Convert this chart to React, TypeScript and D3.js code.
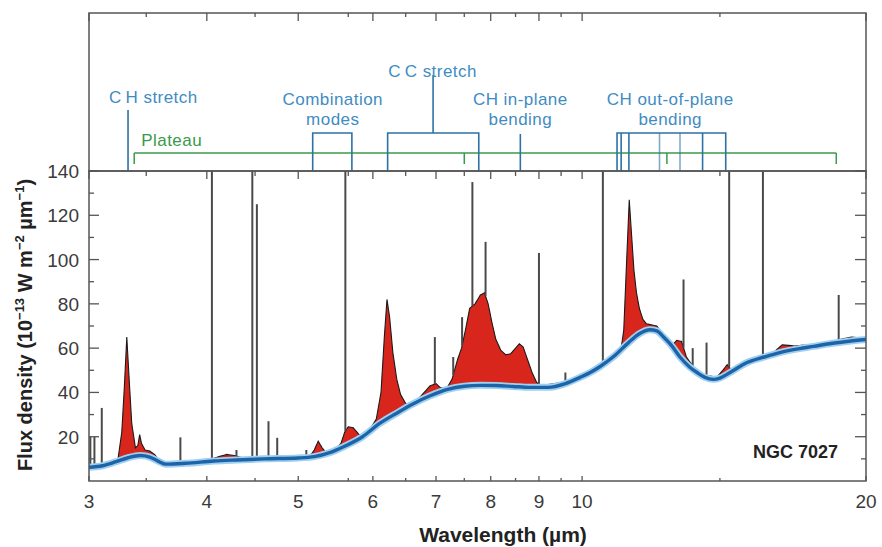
import React from "react";
import * as d3 from "d3";

// ---------- data (wavelength in µm, flux in 10^-13 W m^-2 µm^-1) ----------
const continuum: [number, number][] = [
  [3.0, 6.2], [3.1, 6.9], [3.2, 8.6], [3.3, 10.5], [3.4, 11.5], [3.48, 10.8],
  [3.55, 9.0], [3.62, 7.6], [3.8, 8.0], [4.07, 9.0], [4.3, 9.5], [4.6, 10.0],
  [5.0, 10.4], [5.2, 11.0], [5.4, 12.8], [5.6, 15.7], [5.85, 20], [6.1, 26],
  [6.35, 30.5], [6.6, 34.6], [6.9, 38.5], [7.2, 41.4], [7.5, 42.8], [7.8, 43.2],
  [8.1, 43.1], [8.45, 42.7], [8.8, 42.3], [9.2, 42.3], [9.6, 44], [9.95, 46.8],
  [10.2, 49], [10.45, 51.7], [10.8, 56.2], [11.2, 62.5], [11.5, 66.5], [11.8, 68.3],
  [12.0, 67.8], [12.2, 65], [12.45, 61], [12.7, 56], [13.0, 51.5], [13.24, 49],
  [13.5, 46.8], [13.77, 45.9], [14.0, 46.5], [14.35, 49], [14.96, 53.5], [15.6, 56],
  [16.2, 58], [17.0, 59.8], [17.6, 60.8], [18.3, 62], [19.1, 63], [20.0, 63.9],
];

const spectrum: [number, number][] = [
  [3.0, 6.4], [3.18, 8.6], [3.22, 10], [3.25, 22], [3.27, 42], [3.29, 65],
  [3.31, 45], [3.33, 26], [3.36, 15], [3.38, 16], [3.395, 21], [3.41, 17],
  [3.44, 14], [3.48, 13.5], [3.52, 12], [3.56, 9.5], [3.62, 7.8], [4.0, 9.3],
  [4.12, 11], [4.2, 12], [4.28, 11.5], [4.36, 10.5], [5.0, 10.8], [5.15, 11.5],
  [5.2, 14], [5.25, 18], [5.3, 15], [5.36, 12.5], [5.45, 13.5], [5.55, 17],
  [5.6, 22], [5.65, 24.5], [5.72, 24], [5.8, 21], [5.88, 20.5], [5.95, 23],
  [6.05, 28], [6.12, 40], [6.17, 65], [6.21, 82], [6.25, 74], [6.3, 58],
  [6.36, 46], [6.42, 39], [6.5, 35], [6.58, 34.5], [6.7, 37], [6.8, 40],
  [6.9, 43], [7.0, 44], [7.08, 42], [7.2, 42.5], [7.28, 46], [7.38, 55],
  [7.45, 60], [7.52, 68], [7.6, 78], [7.7, 80], [7.8, 84], [7.88, 85],
  [7.95, 80], [8.02, 72], [8.1, 64], [8.2, 59], [8.3, 57], [8.4, 57.5],
  [8.5, 60], [8.58, 62], [8.66, 60.5], [8.75, 55], [8.85, 49], [8.95, 44.5],
  [9.05, 43], [9.5, 44.5], [9.7, 45.5], [10.0, 47.5], [10.3, 50.5], [10.6, 54],
  [10.9, 58], [11.0, 60], [11.07, 68], [11.15, 100], [11.22, 127], [11.28, 112],
  [11.35, 95], [11.42, 85], [11.5, 78], [11.6, 73], [11.7, 71], [11.85, 70.5],
  [12.0, 70], [12.1, 68], [12.3, 64], [12.5, 62], [12.6, 63.5], [12.75, 63],
  [12.9, 56], [13.1, 52], [13.3, 48], [13.6, 47.5], [13.9, 47], [14.1, 50],
  [14.25, 52.5], [14.4, 50], [14.7, 51.5], [15.0, 54], [15.6, 56.5], [16.0, 58.5],
  [16.3, 61.5], [16.8, 61], [17.3, 61.5], [17.6, 61.5], [18.2, 62.5], [18.8, 64],
  [19.3, 65], [19.8, 64.5], [20.0, 64],
];

// narrow emission lines: [wavelength, peak flux]
const emissionLines: [number, number][] = [
  [3.01, 20], [3.04, 20], [3.095, 33], [3.75, 19.7], [4.05, 200], [4.3, 14],
  [4.47, 200], [4.52, 125], [4.65, 27], [4.75, 19.5], [5.1, 14], [5.61, 200],
  [6.98, 65], [7.3, 56], [7.46, 74], [7.65, 135], [7.9, 108], [9.0, 103],
  [9.6, 49], [10.52, 200], [12.81, 91], [13.1, 60], [13.55, 62.5], [14.32, 200],
  [15.55, 200], [18.71, 84],
];

const xMajorTicks = [3, 4, 5, 6, 7, 8, 9, 10, 20];
const xMinorTicks = [3.45, 4.5, 5.65, 6.5, 7.5, 8.5, 9.5, 14];
const yMajorTicks = [20, 40, 60, 80, 100, 120, 140];
const yMinorTicks = [10, 30, 50, 70, 90, 110, 130];

// band annotations (µm)
const chStretchPos = 3.3;
const plateauRange = [3.35, 18.6];
const plateauTicks = [7.5, 12.3];
const combinationRange = [5.18, 5.7];
const ccRange = [6.22, 7.77];
const ccCenter = 6.95;
const chInPlanePos = 8.6;
const oopRange = [10.89, 14.2];
const oopLines = [11.0, 11.21, 12.08, 12.7, 13.42];

const bandLabels: { lines: string[]; at: number }[] = [
  { lines: ["C\u2009H stretch"], at: 3.51 },
  { lines: ["Combination", "modes"], at: 5.44 },
  { lines: ["C\u2009C stretch"], at: 6.94 },
  { lines: ["CH in-plane", "bending"], at: 8.6 },
  { lines: ["CH out-of-plane", "bending"], at: 12.4 },
];

// ---------- layout ----------
const W = 882, H = 547;
const L = 89, R = 866, TOP = 13, MID = 171, BOT = 481;
const FONT = "'Liberation Sans', Arial, Helvetica, sans-serif";
const BLUE_TEXT = "#3f8cc2";
const BLUE_LINE = "#2c72a6";
const GREEN = "#3a9a4c";

export default function App() {
  const x = d3.scaleLog().domain([3, 20]).range([L, R]);
  const y = d3.scaleLinear().domain([0, 140]).range([BOT, MID]);

  const contI = d3.scaleLog().domain(continuum.map(d => d[0])).range(continuum.map(d => d[1])).clamp(true);
  const specI = d3.scaleLog().domain(spectrum.map(d => d[0])).range(spectrum.map(d => d[1])).clamp(true);

  const grid = Array.from(new Set([...continuum.map(d => d[0]), ...spectrum.map(d => d[0])])).sort((a, b) => a - b);
  const dense: number[] = [];
  for (let i = 0; i < grid.length - 1; i++) {
    const a = grid[i], b = grid[i + 1];
    for (let k = 0; k < 4; k++) dense.push(a * Math.pow(b / a, k / 4));
  }
  dense.push(grid[grid.length - 1]);
  const top = (w: number) => Math.max(specI(w), contI(w));

  const area = d3.area<number>().x(w => x(w)).y0(w => y(contI(w))).y1(w => y(top(w)));
  const specLine = d3.line<number>().x(w => x(w)).y(w => y(top(w)));
  const contLine = d3.line<[number, number]>().x(d => x(d[0])).y(d => y(d[1])).curve(d3.curveMonotoneX);

  const bracketY = 133;
  const labelEls: React.ReactElement[] = [];
  bandLabels.forEach((b, i) => {
    const baselines = b.lines.length === 2 ? [105, 124.5] : b.at < 4 ? [103] : [77];
    b.lines.forEach((t, j) => {
      labelEls.push(
        <text key={i + "-" + j} x={x(b.at)} y={baselines[j]} textAnchor="middle" fill={BLUE_TEXT}
          fontSize={17} letterSpacing={0.45} fontFamily={FONT}>
          {t}
        </text>
      );
    });
  });

  return (
    <div style={{ position: "absolute", left: 0, top: 0 }}>
      <svg width={W} height={H} style={{ display: "block", background: "#fff" }}>
        <defs>
          <clipPath id="main">
            <rect x={L} y={MID} width={R - L} height={BOT - MID} />
          </clipPath>
        </defs>

        {/* ---- top annotation panel ---- */}
        <g stroke={GREEN} strokeWidth={1.5} fill="none">
          <line x1={x(plateauRange[0])} x2={x(plateauRange[1])} y1={153} y2={153} />
          <line x1={x(plateauRange[0])} x2={x(plateauRange[0])} y1={153} y2={164} />
          <line x1={x(plateauRange[1])} x2={x(plateauRange[1])} y1={153} y2={164} />
          {plateauTicks.map((t, i) => (
            <line key={i} x1={x(t)} x2={x(t)} y1={153} y2={164} />
          ))}
        </g>
        <text x={x(3.4) + 1} y={146} fill={GREEN} fontSize={17} letterSpacing={0.45} fontFamily={FONT}>Plateau</text>

        <g stroke={BLUE_LINE} strokeWidth={1.6} fill="none">
          <line x1={x(chStretchPos)} x2={x(chStretchPos)} y1={110} y2={MID} />
          <path d={`M${x(combinationRange[0])},${MID}V${bracketY}H${x(combinationRange[1])}V${MID}`} />
          <path d={`M${x(ccRange[0])},${MID}V${bracketY}H${x(ccRange[1])}V${MID}`} />
          <line x1={x(ccCenter)} x2={x(ccCenter)} y1={bracketY} y2={75} />
          <line x1={x(chInPlanePos)} x2={x(chInPlanePos)} y1={bracketY + 1} y2={MID} />
          <path d={`M${x(oopRange[0])},${MID}V${bracketY}H${x(oopRange[1])}V${MID}`} />
          {oopLines.map((w, i) => (
            <line key={i} x1={x(w)} x2={x(w)} y1={bracketY} y2={MID} opacity={i === 2 || i === 3 ? 0.6 : 1} />
          ))}
        </g>
        {labelEls}

        {/* ---- main panel ---- */}
        <g clipPath="url(#main)">
          <path d={area(dense) || ""} fill="#d8261c" />
          <path d={specLine(dense) || ""} fill="none" stroke="#1a1a1a" strokeWidth={1.1} />
          {emissionLines.map(([w, p], i) => (
            <line key={i} x1={x(w)} x2={x(w)} y1={y(top(w))} y2={y(p)} stroke="#4a4a4a" strokeWidth={2} />
          ))}
          <path d={contLine(continuum) || ""} fill="none" stroke="#9fd0f0" strokeWidth={7} strokeLinejoin="round" />
          <path d={contLine(continuum) || ""} fill="none" stroke="#1d63a8" strokeWidth={3.4} strokeLinejoin="round" />
        </g>

        {/* frames */}
        <rect x={L} y={TOP} width={R - L} height={MID - TOP} fill="none" stroke="#555" strokeWidth={1.5} />
        <rect x={L} y={MID} width={R - L} height={BOT - MID} fill="none" stroke="#555" strokeWidth={1.5} />

        {/* ticks */}
        <g stroke="#555" strokeWidth={1.3}>
          {xMajorTicks.map((t, i) => (
            <g key={"M" + i}>
              <line x1={x(t)} x2={x(t)} y1={BOT} y2={BOT - 5} />
              <line x1={x(t)} x2={x(t)} y1={MID} y2={MID + 8} />
              <line x1={x(t)} x2={x(t)} y1={TOP} y2={TOP + 8} />
            </g>
          ))}
          {xMinorTicks.map((t, i) => (
            <g key={"m" + i}>
              <line x1={x(t)} x2={x(t)} y1={BOT} y2={BOT - 3} />
              <line x1={x(t)} x2={x(t)} y1={MID} y2={MID + 5} />
              <line x1={x(t)} x2={x(t)} y1={TOP} y2={TOP + 4} />
            </g>
          ))}
          {yMajorTicks.map((t, i) => (
            <g key={"Y" + i}>
              <line x1={L} x2={L + 10} y1={y(t)} y2={y(t)} />
              <line x1={R} x2={R - 11} y1={y(t)} y2={y(t)} />
            </g>
          ))}
          {yMinorTicks.map((t, i) => (
            <g key={"y" + i}>
              <line x1={L} x2={L + 5} y1={y(t)} y2={y(t)} />
              <line x1={R} x2={R - 5} y1={y(t)} y2={y(t)} />
            </g>
          ))}
        </g>

        {/* tick labels */}
        <g fill="#3a3a3a" fontSize={19} fontFamily={FONT}>
          {xMajorTicks.map((t, i) => (
            <text key={i} x={x(t)} y={508} textAnchor="middle">{t}</text>
          ))}
          {yMajorTicks.map((t, i) => (
            <text key={i} x={79} y={y(t) + 7} textAnchor="end">{t}</text>
          ))}
        </g>

        {/* axis titles */}
        <text x={503} y={542} textAnchor="middle" fontSize={21} fontWeight="bold" fill="#222" fontFamily={FONT}>
          Wavelength (µm)
        </text>
        <text transform="translate(32,325) rotate(-90)" textAnchor="middle" fontSize={20} fontWeight="bold" fill="#222" fontFamily={FONT}>
          Flux density (10
          <tspan fontSize={13} dy={-8}>−13</tspan>
          <tspan dy={8}> W m</tspan>
          <tspan fontSize={13} dy={-8}>−2</tspan>
          <tspan dy={8}> µm</tspan>
          <tspan fontSize={13} dy={-8}>−1</tspan>
          <tspan dy={8}>)</tspan>
        </text>

        <text x={838} y={458} textAnchor="end" fontSize={18} fontWeight="bold" fill="#222" fontFamily={FONT}>
          NGC 7027
        </text>
      </svg>
    </div>
  );
}
